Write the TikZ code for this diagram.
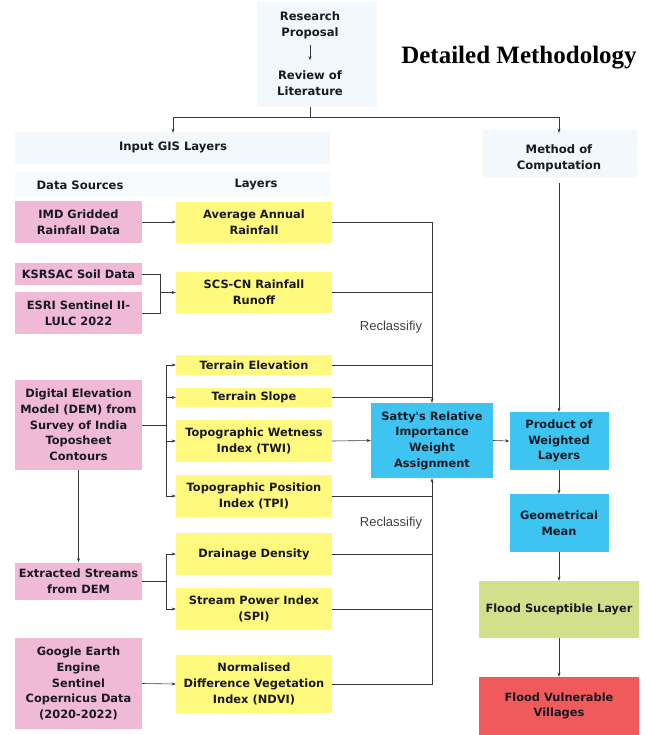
\documentclass[tikz,border=0pt]{standalone}
\usepackage{fontspec}
\usetikzlibrary{arrows.meta}
\newfontfamily\dvs{DejaVu Sans}
\newfontfamily\lsans{Liberation Sans}
\newfontfamily\lserif{Liberation Serif}
\definecolor{pinkbox}{RGB}{240,185,214}
\definecolor{yellowbox}{RGB}{255,250,125}
\definecolor{bluebox}{RGB}{62,196,240}
\definecolor{greenbox}{RGB}{210,224,140}
\definecolor{redbox}{RGB}{240,90,90}
\definecolor{bgblue}{RGB}{243,248,253}
\definecolor{txt}{RGB}{25,25,35}
\definecolor{ln}{RGB}{55,55,55}
\begin{document}
\begin{tikzpicture}[x=1pt,y=-1pt,
  base/.style={rectangle, inner sep=0pt, align=center, text=txt,
    font=\dvs\bfseries\fontsize{11.4}{15.7}\selectfont},
  pinkb/.style={base, fill=pinkbox, minimum width=127pt},
  yelb/.style={base, fill=yellowbox, minimum width=156pt},
  blueb/.style={base, fill=bluebox},
  hdr/.style={base, font=\dvs\bfseries\fontsize{11.6}{15.7}\selectfont},
  lbl/.style={inner sep=0pt, text=black!75, font=\lsans\fontsize{13}{15}\selectfont},
  ln/.style={draw=ln, line width=0.6pt},
  arr/.style={ln, -{Stealth[length=4.2pt,width=3pt]}}
]
\useasboundingbox (0,0) rectangle (652,735);
% faint backgrounds
\fill[bgblue] (257,2) rectangle (377,107);
\fill[bgblue] (15,132) rectangle (330,164);
\fill[bgblue!60] (15,172) rectangle (330,197);
\fill[bgblue] (483,130) rectangle (637,178);

% title
\node[inner sep=0pt, font=\lserif\bfseries\fontsize{25}{28}\selectfont] (title) at (519,58) {Detailed Methodology};

% top
\node[hdr, minimum height=40pt] (research) at (310,25) {Research\\Proposal};
\node[hdr, minimum height=46pt] (review) at (310,83.5) {Review of\\Literature};
\node[hdr, minimum height=28pt] (input) at (173,147) {Input GIS Layers};
\node[hdr, minimum height=50pt] (method) at (559,158) {Method of\\Computation};
\node[hdr] (datasrc) at (80,185) {Data Sources};
\node[hdr] (layers) at (256,185) {Layers};

% data sources
\node[pinkb, minimum height=42pt] (imd) at (78.5,222) {IMD Gridded\\Rainfall Data};
\node[pinkb, minimum height=22pt] (ksr) at (78.5,274) {KSRSAC Soil Data};
\node[pinkb, minimum height=42pt] (esri) at (78.5,313) {ESRI Sentinel II-\\LULC 2022};
\node[pinkb, minimum height=90pt] (dem) at (78.5,425) {Digital Elevation\\Model (DEM) from\\Survey of India\\Toposheet\\Contours};
\node[pinkb, minimum height=37pt] (ext) at (78.5,581) {Extracted Streams\\from DEM};
\node[pinkb, minimum height=91pt] (gee) at (78.5,683.5) {Google Earth\\Engine\\Sentinel\\Copernicus Data\\(2020-2022)};

% layers
\node[yelb, minimum height=41pt] (avg) at (254,222.5) {Average Annual\\Rainfall};
\node[yelb, minimum height=41pt] (scs) at (254,292.5) {SCS-CN Rainfall\\Runoff};
\node[yelb, minimum height=20pt] (telev) at (254,365) {Terrain Elevation};
\node[yelb, minimum height=19pt] (slope) at (254,397.5) {Terrain Slope};
\node[yelb, minimum height=42pt] (twi) at (254,441) {Topographic Wetness\\Index (TWI)};
\node[yelb, minimum height=42pt] (tpi) at (254,496) {Topographic Position\\Index (TPI)};
\node[yelb, minimum height=42pt] (dd) at (254,554) {Drainage Density};
\node[yelb, minimum height=42pt] (spi) at (254,609) {Stream Power Index\\(SPI)};
\node[yelb, minimum height=58pt] (ndvi) at (254,684) {Normalised\\Difference Vegetation\\Index (NDVI)};

% computation
\node[blueb, minimum width=122pt, minimum height=75pt] (satty) at (432,440.5) {Satty's Relative\\Importance\\Weight\\Assignment};
\node[blueb, minimum width=99pt, minimum height=58pt] (prod) at (559,441) {Product of\\Weighted\\Layers};
\node[blueb, minimum width=99pt, minimum height=58pt] (geo) at (559,523) {Geometrical\\Mean};
\node[base, fill=greenbox, minimum width=160pt, minimum height=57pt] (sus) at (559,609.5) {Flood Suceptible Layer};
\node[base, fill=redbox, minimum width=160pt, minimum height=58pt] (vul) at (559,706) {Flood Vulnerable\\Villages};

\node[lbl] (rc1) at (391,327) {Reclassifiy};
\node[lbl] (rc2) at (391,523) {Reclassifiy};

% top connectors
\draw[arr] (research) -- (review);
\coordinate (split) at (310,117);
\draw[ln] (review.south) -- (split);
\draw[arr] (split) -| (input.north);
\draw[arr] (split) -| (method.north);
\draw[arr] (method.south) -- (prod.north);

% left connectors
\draw[arr] (imd.east) -- (avg.west |- imd.east);
\coordinate (j1) at (160,292.5);
\draw[ln] (ksr.east) -| (j1);
\draw[ln] (esri.east) -| (j1);
\draw[arr] (j1) -- (scs.west);
\coordinate (j2) at (166,425);
\draw[ln] (dem.east) -- (j2);
\draw[arr] (j2) |- (telev.west);
\draw[arr] (j2) |- (slope.west);
\draw[arr] (j2) |- (twi.west);
\draw[arr] (j2) |- (tpi.west);
\draw[arr] (dem.south) -- (ext.north);
\coordinate (j3) at (166,581);
\draw[ln] (ext.east) -- (j3);
\draw[arr] (j3) |- (dd.west);
\draw[arr] (j3) |- (spi.west);
\draw[arr] (gee.east) -- (ndvi.west);

% right connectors
\draw[arr] (avg.east) -| (satty.north);
\draw[ln] (scs.east) -- (satty.north |- scs.east);
\draw[ln] (telev.east) -- (satty.north |- telev.east);
\draw[ln] (slope.east) -- (satty.north |- slope.east);
\draw[arr] (twi.east) -- (satty.west);
\draw[arr] (ndvi.east) -| (satty.south);
\draw[ln] (tpi.east) -- (satty.south |- tpi.east);
\draw[ln] (dd.east) -- (satty.south |- dd.east);
\draw[ln] (spi.east) -- (satty.south |- spi.east);
\draw[arr] (satty.east) -- (prod.west);
\draw[arr] (prod.south) -- (geo.north);
\draw[arr] (geo.south) -- (sus.north);
\draw[arr] (sus.south) -- (vul.north);
\end{tikzpicture}
\end{document}
